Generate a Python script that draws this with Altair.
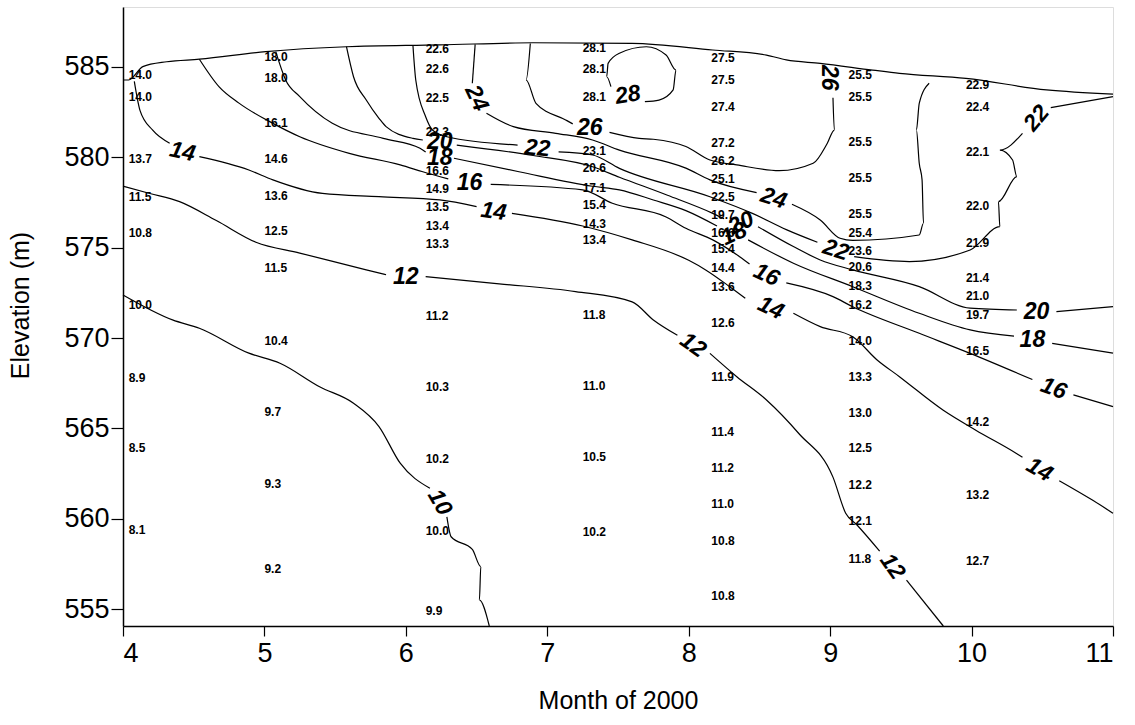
import altair as alt
import pandas as pd

# ---------------- data ----------------
MONTH_TICKS = [4, 5, 6, 7, 8, 9, 10, 11]
ELEV_TICKS = [555, 560, 565, 570, 575, 580, 585]

# measured temperatures: one column per survey date
COL_MONTHS = [4.04, 5.0, 6.14, 7.25, 8.16, 9.13, 9.96]
COL_ELEVS = [
    [584.56, 583.34, 579.9, 577.8, 575.8, 571.8, 567.8, 563.9, 559.4],
    [585.57, 584.37, 581.9, 579.9, 577.86, 575.9, 573.86, 569.85, 565.9, 561.9, 557.2],
    [585.98, 584.87, 583.27, 581.42, 579.26, 578.23, 577.24, 576.2, 575.2, 571.2, 567.27, 563.3, 559.3, 554.9],
    [586.03, 584.87, 583.36, 580.37, 579.4, 578.3, 577.36, 576.3, 575.4, 571.3, 567.35, 563.4, 559.25],
    [585.48, 584.28, 582.8, 580.8, 579.8, 578.8, 577.82, 576.8, 575.8, 574.9, 573.86, 572.84, 570.85,
     567.83, 564.82, 562.8, 560.8, 558.79, 555.73],
    [584.56, 583.36, 580.87, 578.84, 576.85, 575.8, 574.83, 573.95, 572.88, 571.83, 569.85, 567.86,
     565.87, 563.9, 561.87, 559.88, 557.77],
    [584.0, 582.8, 580.3, 577.3, 575.28, 573.34, 572.34, 571.3, 569.3, 565.34, 561.3, 557.66],
]
COL_TEMPS = [
    [14.0, 14.0, 13.7, 11.5, 10.8, 10.0, 8.9, 8.5, 8.1],
    [18.0, 18.0, 16.1, 14.6, 13.6, 12.5, 11.5, 10.4, 9.7, 9.3, 9.2],
    [22.6, 22.6, 22.5, 22.3, 16.6, 14.9, 13.5, 13.4, 13.3, 11.2, 10.3, 10.2, 10.0, 9.9],
    [28.1, 28.1, 28.1, 23.1, 20.6, 17.1, 15.4, 14.3, 13.4, 11.8, 11.0, 10.5, 10.2],
    [27.5, 27.5, 27.4, 27.2, 26.2, 25.1, 22.5, 19.7, 16.6, 15.4, 14.4, 13.6, 12.6,
     11.9, 11.4, 11.2, 11.0, 10.8, 10.8],
    [25.5, 25.5, 25.5, 25.5, 25.5, 25.4, 23.6, 20.6, 18.3, 16.2, 14.0, 13.3, 13.0, 12.5, 12.2, 12.1, 11.8],
    [22.9, 22.4, 22.1, 22.0, 21.9, 21.4, 21.0, 19.7, 16.5, 14.2, 13.2, 12.7],
]

# water surface (month, elevation)
SURFACE = [(4.0, 584.28), (4.04, 584.28), (4.14, 585.02), (4.31, 585.29), (4.54, 585.43),
           (5.01, 585.85), (5.58, 586.12), (6.24, 586.22), (6.9, 586.34), (7.6, 586.31),
           (8.17, 585.94), (8.55, 585.66), (8.69, 585.39), (8.93, 585.2), (9.3, 584.83),
           (9.49, 584.65), (9.96, 584.37), (10.53, 583.73), (11.0, 583.5)]

# isotherms, each split into segments where its label interrupts it
C10 = [
    [(4.0, 572.38), (4.35, 571.0), (4.54, 570.54), (4.89, 569.16), (5.11, 568.6), (5.39, 567.3),
     (5.63, 566.39), (5.81, 565.1), (5.96, 563.07), (6.17, 561.68)],
    [(6.29, 560.1), (6.32, 559.0), (6.47, 558.3), (6.53, 557.35), (6.52, 555.5), (6.59, 554.06)],
]
C12 = [
    [(4.0, 578.4), (4.19, 578.0), (4.4, 577.55), (4.66, 576.5), (4.94, 575.3), (5.25, 574.7),
     (5.72, 573.77), (5.86, 573.5)],
    [(6.14, 573.4), (6.66, 573.0), (7.2, 572.57), (7.6, 572.0), (7.75, 571.0), (7.92, 570.15)],
    [(8.15, 569.15), (8.34, 567.86), (8.55, 566.57), (8.78, 564.7), (9.02, 562.3), (9.11, 560.3),
     (9.19, 559.65), (9.35, 558.2)],
    [(9.54, 556.6), (9.8, 554.06)],
]
C14 = [
    [(4.08, 584.2), (4.12, 582.6), (4.21, 581.5), (4.33, 580.78)],
    [(4.54, 580.04), (4.89, 579.3), (5.06, 578.75), (5.41, 578.0), (5.81, 577.82), (6.24, 577.64),
     (6.5, 577.27)],
    [(6.75, 576.9), (7.25, 576.2), (7.6, 575.43), (8.0, 574.3), (8.12, 573.77), (8.29, 572.84),
     (8.4, 572.2)],
    [(8.74, 571.37), (8.93, 570.63), (9.16, 570.07), (9.33, 568.8), (9.49, 567.86), (9.8, 566.0),
     (10.03, 564.9), (10.32, 563.6), (10.36, 563.4)],
    [(10.62, 562.1), (10.86, 561.0), (11.0, 560.3)],
]
C16 = [
    [(4.54, 585.43), (4.68, 583.9), (4.82, 583.0), (5.06, 581.88), (5.25, 581.14), (5.6, 580.22),
     (5.96, 579.58), (6.12, 579.2), (6.3, 578.8)],
    [(6.6, 578.5), (7.25, 578.2), (7.46, 577.46), (7.84, 576.7), (7.98, 576.07), (8.17, 575.43),
     (8.36, 574.5), (8.43, 574.1)],
    [(8.69, 573.05), (9.02, 572.29), (9.16, 571.73), (9.63, 570.26), (9.99, 569.15), (10.43, 567.7)],
    [(10.72, 566.85), (11.0, 566.2)],
]
C18 = [
    [(5.08, 585.85), (5.15, 584.28), (5.25, 583.36), (5.48, 581.88), (5.84, 581.05), (6.1, 580.5),
     (6.14, 580.3)],
    [(6.34, 579.95), (6.8, 579.2), (7.32, 578.4), (7.51, 578.2), (7.75, 577.64), (7.98, 577.05),
     (8.2, 576.2)],
    [(8.42, 575.43), (8.74, 574.14), (9.16, 572.84), (9.63, 571.37), (9.99, 570.45), (10.3, 570.1)],
    [(10.57, 569.7), (11.0, 569.16)],
]
C20 = [
    [(5.58, 586.12), (5.63, 584.46), (5.72, 583.17), (5.81, 582.16), (5.86, 581.7), (6.05, 581.05),
     (6.12, 580.96)],
    [(6.36, 580.68), (6.9, 580.1), (7.32, 579.48), (7.51, 578.9), (7.85, 577.9), (8.17, 576.9),
     (8.25, 576.6)],
    [(8.49, 576.16), (8.74, 575.06), (8.93, 574.32), (9.16, 573.77), (9.63, 572.84), (9.99, 571.65),
     (10.32, 571.55)],
    [(10.6, 571.46), (11.0, 571.74)],
]
C22 = [
    [(6.05, 586.2), (6.07, 584.28), (6.14, 582.25), (6.19, 581.5), (6.29, 581.14), (6.79, 580.68)],
    [(7.08, 580.3), (7.32, 580.13), (7.51, 579.39), (8.15, 577.82), (8.45, 576.9), (8.69, 576.0),
     (8.91, 575.3)],
    [(9.17, 574.5), (9.56, 574.23), (9.99, 574.87), (10.2, 576.16), (10.19, 577.55), (10.32, 578.93),
     (10.29, 579.85), (10.2, 580.4), (10.36, 581.33)],
    [(10.56, 582.75), (11.0, 583.36)],
]
C24 = [
    [(6.49, 586.25), (6.47, 584.1)],
    [(6.57, 582.44), (6.76, 581.7), (7.06, 581.33), (7.32, 580.96), (7.51, 580.4), (7.98, 579.4),
     (8.15, 578.75), (8.48, 578.05)],
    [(8.73, 577.4), (8.93, 576.53), (9.07, 575.52), (9.16, 575.4), (9.63, 575.7), (9.66, 576.35),
     (9.65, 578.75), (9.63, 579.67), (9.61, 581.51), (9.63, 582.99), (9.7, 584.1)],
]
C26 = [
    [(6.88, 586.3), (6.85, 584.28), (6.92, 582.99), (7.13, 582.07), (7.18, 581.85)],
    [(7.44, 581.38), (7.65, 581.05), (7.75, 581.0), (7.98, 580.6), (8.15, 579.85), (8.34, 579.58),
     (8.64, 579.26), (8.88, 579.67), (8.98, 580.78), (9.03, 581.51), (9.02, 583.3)],
]
C28 = [
    [(7.45, 583.91), (7.42, 584.46), (7.43, 585.2), (7.51, 585.76), (7.7, 586.12), (7.84, 585.66),
     (7.91, 584.83), (7.89, 583.73), (7.79, 583.17), (7.69, 583.08)],
]

# contour labels: text, month, elevation, rotation
CONTOUR_LABELS = [
    ("10", 6.24, 560.9, 60), ("12", 6.0, 573.4, 0), ("12", 8.03, 569.6, 35), ("12", 9.44, 557.35, 55),
    ("14", 4.42, 580.3, 12), ("14", 6.62, 577.0, 8), ("14", 8.58, 571.65, 25), ("14", 10.48, 562.7, 30),
    ("16", 6.45, 578.56, 0), ("16", 8.55, 573.49, 25), ("16", 10.58, 567.2, 20),
    ("18", 6.24, 579.95, 0), ("18", 8.32, 575.75, 335), ("18", 10.43, 569.9, 0),
    ("20", 6.24, 580.85, 0), ("20", 8.37, 576.35, 335), ("20", 10.46, 571.46, 0),
    ("22", 6.93, 580.5, 5), ("22", 9.04, 574.87, 18), ("22", 10.46, 582.16, 310),
    ("24", 6.5, 583.27, 65), ("24", 8.6, 577.73, 18),
    ("26", 7.3, 581.6, 0), ("26", 8.99, 584.4, 90),
    ("28", 7.57, 583.45, 350),
]

# ---------------- tables ----------------
line_rows = []
def add_line(name, pts):
    for i, (m, e) in enumerate(pts):
        line_rows.append({"seg": name, "order": i, "month": m, "elev": e})

add_line("surface", SURFACE)
for lvl, segs in [(10, C10), (12, C12), (14, C14), (16, C16), (18, C18), (20, C20),
                  (22, C22), (24, C24), (26, C26), (28, C28)]:
    for k, s in enumerate(segs):
        add_line(f"c{lvl}_{k}", s)
lines_df = pd.DataFrame(line_rows)

val_rows = []
for m, elevs, temps in zip(COL_MONTHS, COL_ELEVS, COL_TEMPS):
    for e, t in zip(elevs, temps):
        val_rows.append({"month": m, "elev": e, "temp": t})
vals_df = pd.DataFrame(val_rows)

lab_df = pd.DataFrame(CONTOUR_LABELS, columns=["txt", "month", "elev", "ang"])

FONT = "Liberation Sans"

x_scale = alt.Scale(domain=[4, 11], nice=False, zero=False)
y_scale = alt.Scale(domain=[554.06, 588.32], nice=False, zero=False)

x_enc = alt.X("month:Q", scale=x_scale, axis=alt.Axis(
    values=MONTH_TICKS, title="Month of 2000", format="d", grid=False,
    labelFontSize=27, labelFont=FONT, labelColor="black", labelPadding=4,
    tickSize=10, tickColor="black", tickWidth=1.2, domainColor="black", domainWidth=1.5,
    titleFontSize=25, titleFont=FONT, titleFontWeight="normal", titleColor="black",
    titleY=74, titleBaseline="middle"))
y_enc = alt.Y("elev:Q", scale=y_scale, axis=alt.Axis(
    values=ELEV_TICKS, title="Elevation (m)", format="d", grid=False,
    labelFontSize=27, labelFont=FONT, labelColor="black", labelPadding=2,
    tickSize=12, tickColor="black", tickWidth=1.2, domainColor="black", domainWidth=1.5,
    titleFontSize=25, titleFont=FONT, titleFontWeight="normal", titleColor="black",
    titleAngle=270, titleX=-103, titleY=298, titleAlign="center", titleBaseline="middle"))

lines = alt.Chart(lines_df).mark_line(color="black", strokeWidth=1.2, interpolate="monotone").encode(
    x=x_enc, y=y_enc, detail="seg:N", order="order:Q")

values = alt.Chart(vals_df).mark_text(
    align="left", baseline="middle", font=FONT, fontSize=12, fontWeight="bold", color="black"
).encode(x="month:Q", y="elev:Q", text=alt.Text("temp:Q", format=".1f"))

labels = alt.Chart(lab_df).mark_text(
    align="center", baseline="middle", font=FONT, fontSize=23, fontStyle="italic",
    fontWeight="bold", color="black"
).encode(x="month:Q", y="elev:Q", text="txt:N", angle=alt.Angle("ang:Q", scale=None))

chart = alt.layer(lines, values, labels).properties(
    width=990, height=619,
    autosize=alt.AutoSizeParams(type="none"),
    padding={"left": 123, "top": 7, "right": 22, "bottom": 99},
).configure_view(stroke="black", strokeWidth=1.5).configure(background="white")

chart.save("out.html", embed_options={"renderer": "svg", "actions": False})
